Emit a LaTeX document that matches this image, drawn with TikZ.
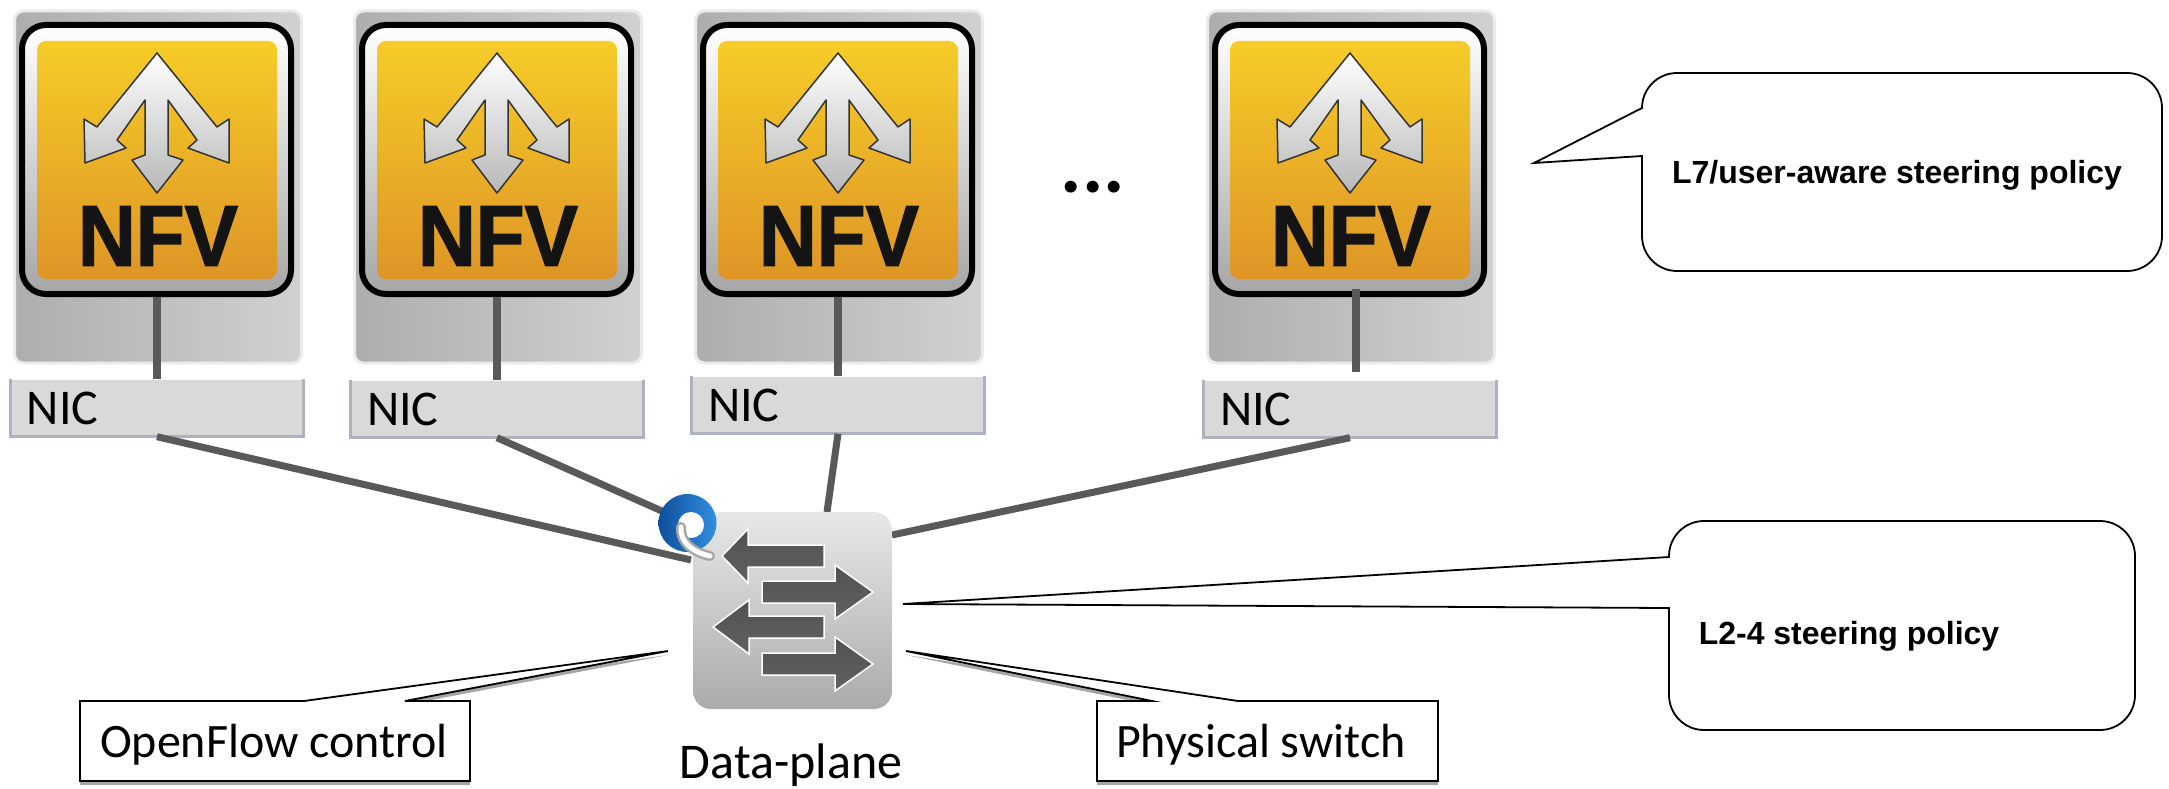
\documentclass[tikz,border=0pt]{standalone}
\usepackage{fontspec}
\setmainfont{Carlito}
\newfontfamily\arialfont{Liberation Sans}
\newfontfamily\nfvfont[FakeBold=1.6]{Liberation Sans Bold}
\usetikzlibrary{positioning,shadows}

\definecolor{linkgray}{HTML}{595959}
\definecolor{nicgray}{HTML}{D9D9D9}
\definecolor{nicedge}{HTML}{AEB2C0}
\definecolor{faceTop}{HTML}{F6CC28}
\definecolor{faceMid}{HTML}{EDAF25}
\definecolor{faceLow}{HTML}{DE9526}
\definecolor{ringDark}{HTML}{0F4F9C}
\definecolor{ringLight}{HTML}{2F8FDF}

\begin{document}
\begin{tikzpicture}[
  x=1pt, y=-1pt,
  cardbox/.style={rectangle,rounded corners=9pt,minimum width=287pt,minimum height=352pt,inner sep=0pt,
    draw=black!8,line width=3pt,left color=black!32,right color=black!18},
  bezel/.style={rectangle,rounded corners=24pt,minimum width=269pt,minimum height=269pt,inner sep=0pt,
    draw=black,line width=6pt,top color=white,bottom color=black!35},
  face/.style={rectangle,rounded corners=9pt,minimum width=240pt,minimum height=238pt,inner sep=0pt,
    top color=faceTop,middle color=faceMid,bottom color=faceLow},
  forkarrow/.style={draw=black!80,line width=1.5pt,line join=round,top color=white,bottom color=black!28},
  nfvlabel/.style={font=\nfvfont\fontsize{86}{90}\selectfont,inner sep=0pt,text=black!92},
  nicbox/.style={rectangle,minimum width=292pt,minimum height=57pt,inner sep=0pt,
    fill=nicgray,align=left,text width=260pt,font=\fontsize{50}{54}\selectfont},
  nicedgeline/.style={draw=nicedge,line width=3pt},
  uplink/.style={draw=linkgray,line width=8pt},
  link/.style={draw=linkgray,line width=7pt},
  switchbox/.style={rectangle,rounded corners=18pt,minimum width=199pt,minimum height=197pt,inner sep=0pt,
    top color=black!9,bottom color=black!33},
  swarrow/.style={draw=white,line width=1.5pt,top color=black!68,middle color=black!90,bottom color=black!62},
  bubble/.style={draw=black,line width=1.8pt,fill=white,line join=miter},
  notebox/.style={draw=black,line width=1.8pt,fill=white,
    drop shadow={shadow xshift=0pt,shadow yshift=-4pt,fill=black,opacity=.35}},
  note/.style={font=\fontsize{48}{52}\selectfont,inner sep=0pt},
  policy/.style={font=\arialfont\bfseries\fontsize{32}{36}\selectfont,inner sep=0pt}
    ]

\useasboundingbox (0,0) rectangle (2169,789);

\foreach \i/\x/\ny/\ux/\uy in {1/0/408/0/0, 2/340/409/0/0, 3/681/405/0/0, 4/1193/409/6/8}{
  \begin{scope}[shift={(\x,0)}]
  \node[cardbox] (card\i) at (158,187) {};
  \node[bezel] (bezel\i) at (156.5,159.5) {};
  \node[face] (face\i) at (157,160) {};
  \draw[forkarrow] (157,53) -- (217,127) -- (229,119) -- (229,163) -- (188,148) -- (197,140)
    -- (168,100) -- (168,155) -- (183,160) -- (157,193) -- (132,160) -- (145,155) -- (145,100)
    -- (117,140) -- (126,148) -- (85,163) -- (84,119) -- (97,127) -- cycle;
  \node[nfvlabel] (nfv\i) at (158,236) {\scalebox{.93}[1]{NFV}};
  \node[nicbox] (nic\i) at (157,\ny) {NIC};
  \draw[nicedgeline] (nic\i.north west) -- (nic\i.south west) -- (nic\i.south east) -- (nic\i.north east);
  \end{scope}
  \draw[uplink] ([xshift=\ux pt,yshift=\uy pt]bezel\i.south) -- ([xshift=\ux pt,yshift=\uy pt]bezel\i.south |- nic\i.north);
}

\node[font=\bfseries\fontsize{80}{84}\selectfont,inner sep=0pt] (dots) at (1093,187) {...};

\coordinate (sw1) at (691,560);
\coordinate (sw2) at (664,512);
\coordinate (sw3) at (827,512);
\coordinate (sw4) at (892,535);
\draw[link] (nic1.south) -- (sw1);
\draw[link] (nic2.south) -- (sw2);
\draw[link] (nic3.south) -- (sw3);
\draw[link] (nic4.south) -- (sw4);

\node[switchbox] (sw) at (792.5,610.5) {};
\foreach \tx/\nx/\px/\cy in {824/748/722/556, 762/835/873/592, 824/749/713/627, 762/835/873/664}{
  \draw[swarrow] (\tx,{\cy-11}) -- (\nx,{\cy-11}) -- (\nx,{\cy-27}) -- (\px,\cy)
    -- (\nx,{\cy+27}) -- (\nx,{\cy+11}) -- (\tx,{\cy+11}) -- cycle;
}

\node[circle,minimum size=58pt,inner sep=0pt,left color=ringDark,right color=ringLight] (ofball) at (687.5,523) {};
\node[circle,minimum size=26pt,inner sep=0pt,fill=white] (ofhole) at (691,525) {};
\draw[draw=black!35,line width=10pt,line cap=round] (681,527) .. controls (680,542) and (692,552) .. (710,556);
\draw[draw=white,line width=5pt,line cap=round] (681,527) .. controls (680,542) and (692,552) .. (710,556);

\node[font=\fontsize{50}{54}\selectfont,inner sep=0pt] (dp) at (791,765) {Data-plane};

\draw[notebox] (80,701) -- (304,701) -- (668,651) -- (405,701) -- (470,701) -- (470,781) -- (80,781) -- cycle;
\node[note] (ofc) at (274,745) {OpenFlow control};

\draw[notebox] (1097,701) -- (1152,701) -- (906,651) -- (1238,701) -- (1438,701) -- (1438,781) -- (1097,781) -- cycle;
\node[note] (phy) at (1261,745) {Physical switch};

\draw[bubble] (1642,108) [rounded corners=35pt] -- (1642,73) -- (2162,73) -- (2162,271) -- (1642,271)
  [sharp corners] -- (1642,156) -- (1534,163) -- cycle;
\node[policy] (l7) at (1897,175) {L7/user-aware steering policy};

\draw[bubble] (1669,557) [rounded corners=35pt] -- (1669,521) -- (2135,521) -- (2135,730) -- (1669,730)
  [sharp corners] -- (1669,608) -- (903,604) -- cycle;
\node[policy] (l24) at (1849,636) {L2-4 steering policy};
\end{tikzpicture}
\end{document}
